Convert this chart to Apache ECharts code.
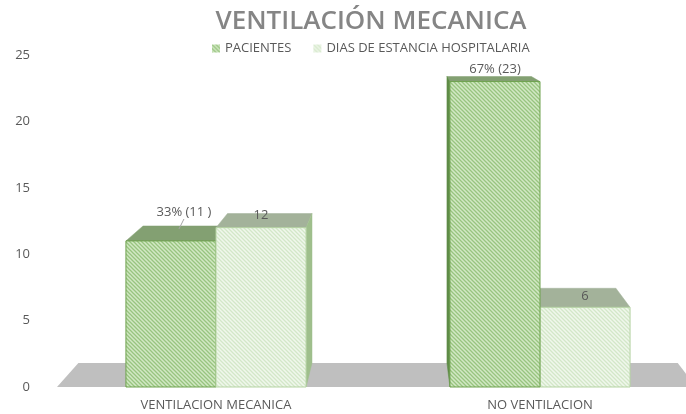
<!DOCTYPE html>
<html>
<head>
<meta charset="utf-8">
<script src="https://cdn.jsdelivr.net/npm/echarts@6/dist/echarts.min.js"></script>
<style>html,body{margin:0;padding:0;background:#fff}#c{width:686px;height:414px}</style>
</head>
<body>
<div id="c"></div>
<script>
var categories = ['VENTILACION MECANICA', 'NO VENTILACION'];
var seriesNames = ['PACIENTES', 'DIAS DE ESTANCIA HOSPITALARIA'];
var pacientes = [11, 23];
var dias = [12, 6];
var pacientesLabels = ['33% (11 )', '67% (23)'];
var diasLabels = ['12', '6'];
var yTicks = [0, 5, 10, 15, 20, 25];

function makePattern(base, line) {
  var c = document.createElement('canvas');
  c.width = 4; c.height = 4;
  var g = c.getContext('2d');
  g.fillStyle = base; g.fillRect(0, 0, 4, 4);
  g.strokeStyle = line; g.lineWidth = 1.3;
  g.beginPath();
  g.moveTo(-1, -1); g.lineTo(5, 5);
  g.moveTo(-1, 3); g.lineTo(1, 5);
  g.moveTo(3, -1); g.lineTo(5, 1);
  g.stroke();
  return { image: c, repeat: 'repeat' };
}
var styles = [
  { front: makePattern('#d2e8c4', '#98c47f'), stroke: '#6fa24f', top: '#83a072', side: '#5f8c47', labels: pacientesLabels },
  { front: makePattern('#f0f7ec', '#d3e7c8'), stroke: '#b5d3a3', top: '#a3b29a', side: '#9fbf8c', labels: diasLabels }
];

var K = 0.062;
var FONT = '"Open Sans"';
function vp(cs) { return [cs.x + cs.width * 0.55, cs.y - 55]; }
function makeRender(si) {
  return function (params, api) {
    var cs = params.coordSys;
    var V = vp(cs), VPX = V[0], VPY = V[1];
    function back(p) { return [p[0] + (VPX - p[0]) * K, p[1] + (VPY - p[1]) * K]; }
    var cat = api.value(0), v = api.value(1);
    var base = api.coord([cat, 0]), top = api.coord([cat, v]);
    var bw = api.size([1, 0])[0] * 0.278;
    var x0 = si === 0 ? base[0] - bw : base[0];
    var x1 = x0 + bw;
    var yT = top[1], yB = base[1];
    var st = styles[si];
    var cx = (x0 + x1) / 2;
    var z = 1000 - Math.abs(cx - VPX);
    var children = [];
    children.push({ type: 'polygon', z2: z, shape: { points: [[x0, yT], [x1, yT], back([x1, yT]), back([x0, yT])] }, style: { fill: st.top, stroke: st.top, lineWidth: 0.5 } });
    if (x1 < VPX) {
      children.push({ type: 'polygon', z2: z, shape: { points: [[x1, yT], [x1, yB], back([x1, yB]), back([x1, yT])] }, style: { fill: st.side, stroke: st.side, lineWidth: 0.5 } });
    }
    if (x0 > VPX) {
      children.push({ type: 'polygon', z2: z, shape: { points: [[x0, yT], [x0, yB], back([x0, yB]), back([x0, yT])] }, style: { fill: st.side, stroke: st.side, lineWidth: 0.5 } });
    }
    children.push({ type: 'rect', z2: z + 0.1, shape: { x: x0, y: yT, width: bw, height: yB - yT }, style: { fill: st.front, stroke: st.stroke, lineWidth: 1 } });
    var bt = back([x0, yT]);
    var idx = params.dataIndex;
    var lab = st.labels[idx];
    var ly = bt[1] + 2, lx = cx;
    if (si === 0 && idx === 0) {
      ly = bt[1] - 14; lx = cx + 13;
      children.push({ type: 'line', z2: 2000, shape: { x1: lx, y1: ly + 7, x2: lx - 5, y2: ly + 17 }, style: { stroke: '#a6a6a6', lineWidth: 1 } });
    } else if (si === 0) {
      ly = bt[1] - 7;
    } else if (idx === 1) {
      ly = bt[1] + 8;
    }
    children.push({ type: 'text', z2: 2000, style: { text: lab, x: lx, y: ly, align: 'center', verticalAlign: 'middle', fill: '#595959', font: '13px ' + FONT } });
    return { type: 'group', children: children };
  };
}
function floorRender(params, api) {
  var cs = params.coordSys;
  var V = vp(cs), VPX = V[0], VPY = V[1];
  function back(p) { return [p[0] + (VPX - p[0]) * K, p[1] + (VPY - p[1]) * K]; }
  var y0 = api.coord([0, 0])[1];
  var l = [cs.x + 3, y0], r = [cs.x + cs.width + 10, y0];
  return { type: 'polygon', z2: -10, shape: { points: [l, r, back(r), back(l)] }, style: { fill: '#bfbfbf' } };
}

var chart = echarts.init(document.getElementById('c'), null, { renderer: 'canvas' });
chart.setOption({
  animation: false,
  title: {
    text: 'VENTILACIÓN MECANICA', left: 366, top: 4, textAlign: 'center',
    textStyle: { fontFamily: 'Open Sans', fontWeight: 600, fontSize: 26, color: '#858585' }
  },
  legend: {
    data: seriesNames, left: 207, top: 37, icon: 'rect', itemWidth: 8, itemHeight: 8, itemGap: 22,
    textStyle: { fontFamily: 'Open Sans', fontSize: 13, color: '#595959' }
  },
  grid: { left: 54, top: 55, right: 0, height: 332 },
  xAxis: {
    type: 'value', min: -0.5, max: 1.4506,
    splitLine: { show: false }, axisLine: { show: false }, axisTick: { show: false },
    axisLabel: {
      customValues: [0, 1], margin: 12, fontFamily: 'Open Sans', fontSize: 13, color: '#595959',
      formatter: function (v) { return categories[Math.round(v)] || ''; }
    }
  },
  yAxis: {
    type: 'value', min: yTicks[0], max: yTicks[yTicks.length - 1], interval: 5,
    splitLine: { show: false }, axisLine: { show: false }, axisTick: { show: false },
    axisLabel: { margin: 24, fontFamily: 'Open Sans', fontSize: 13, color: '#595959' }
  },
  series: [
    { type: 'custom', name: '_floor', silent: true, renderItem: floorRender, data: [[0, 0]], encode: { x: 0, y: 1 } },
    { type: 'custom', name: seriesNames[0], renderItem: makeRender(0), itemStyle: { color: styles[0].front },
      data: pacientes.map(function (v, i) { return [i, v]; }), encode: { x: 0, y: 1 } },
    { type: 'custom', name: seriesNames[1], renderItem: makeRender(1), itemStyle: { color: styles[1].front },
      data: dias.map(function (v, i) { return [i, v]; }), encode: { x: 0, y: 1 } }
  ]
});
</script>
</body>
</html>
